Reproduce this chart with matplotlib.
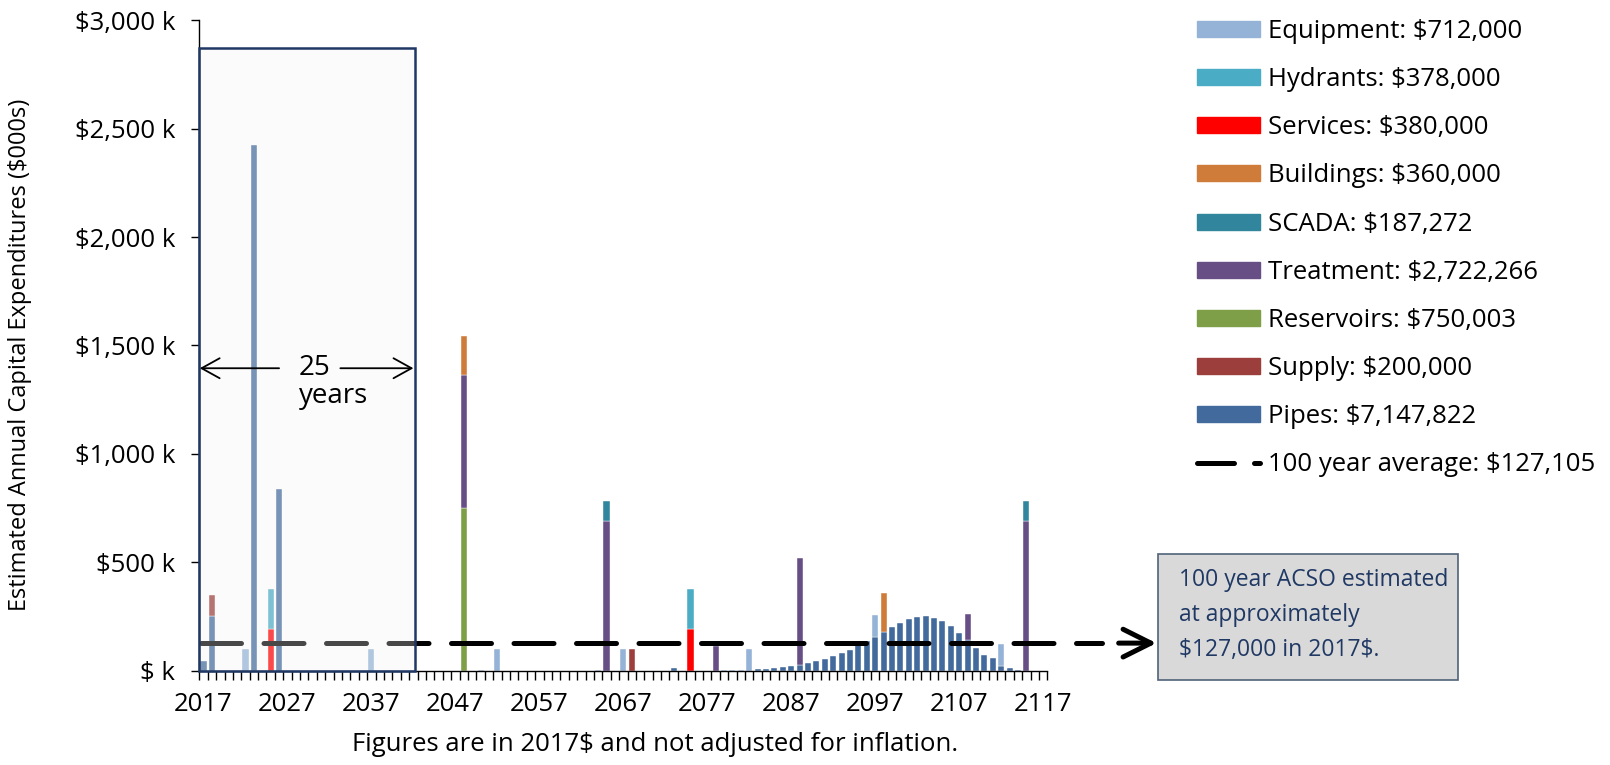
import numpy as np
import matplotlib.pyplot as plt
from matplotlib.patches import Patch, Rectangle
from matplotlib.lines import Line2D
from matplotlib.ticker import FuncFormatter, MultipleLocator

plt.rcParams['font.family'] = ['Open Sans', 'DejaVu Sans']

years = list(range(2017, 2118))

# annual capital spend per asset class, in $000s, keyed by year
equipment = {2022: 100, 2037: 100, 2050: 3, 2052: 100, 2064: 3, 2067: 100,
             2079: 2, 2080: 2, 2081: 2, 2082: 100, 2097: 100, 2112: 100}
hydrants = {2025: 189, 2075: 189}
services = {2025: 190, 2075: 190}
buildings = {2048: 180, 2098: 180}
scada = {2065: 93.6, 2115: 93.6}
treatment = {2048: 615, 2065: 690, 2078: 112, 2088: 494, 2108: 121, 2115: 690}
reservoirs = {2048: 750}
supply = {2018: 100, 2068: 100}
pipes_early = {2017: 46, 2018: 250, 2023: 2425, 2026: 838, 2073: 11}
pipes_late = [8, 9.5, 12.5, 17, 22, 28, 35, 45, 54, 66, 82, 97, 117, 135, 157,
              180, 201, 220, 237, 248, 251, 245, 231, 206, 174, 140, 103, 71,
              60, 22, 11, 3]  # 2083..2114

avg_line = 127.105

legend_labels = [
    'Equipment: \\$712,000', 'Hydrants: \\$378,000', 'Services: \\$380,000',
    'Buildings: \\$360,000', 'SCADA: \\$187,272', 'Treatment: \\$2,722,266',
    'Reservoirs: \\$750,003', 'Supply: \\$200,000', 'Pipes: \\$7,147,822',
]
avg_label = '100 year average: \\$127,105'

pipes = dict(pipes_early)
pipes.update(zip(range(2083, 2115), pipes_late))

# bottom-to-top stacking order
stack = [
    (pipes, '#426a9c'),
    (supply, '#9c3f3c'),
    (reservoirs, '#7e9e48'),
    (treatment, '#674f86'),
    (scada, '#31859c'),
    (buildings, '#cf7b3a'),
    (services, '#ff0000'),
    (hydrants, '#4bacc6'),
    (equipment, '#95b3d7'),
]

fig = plt.figure(figsize=(16.1, 7.65), dpi=100)
ax = fig.add_axes([0.1238, 0.1233, 0.5267, 0.8502])

x = np.arange(len(years))
bottom = np.zeros(len(years))
for series, color in stack:
    vals = np.array([series.get(y, 0) for y in years], dtype=float)
    m = vals > 0
    ax.bar(x[m], vals[m], 0.72, bottom=bottom[m], color=color,
           edgecolor='white', linewidth=0.3, zorder=2)
    bottom += vals

ax.set_xlim(-0.5, len(years) - 0.5)
ax.set_ylim(0, 3000)

# 100 year average, carried out past the axis to the note box
ax.plot([-0.3, 107], [avg_line, avg_line], color='black', lw=3.6,
        dashes=(8, 4.5), dash_capstyle='round', clip_on=False, zorder=2.5)
ax.annotate('', xy=(113.5, avg_line), xytext=(109.0, avg_line),
            arrowprops=dict(arrowstyle='->, head_length=1.0, head_width=0.5',
                            lw=3.6, color='black', shrinkA=0, shrinkB=0,
                            mutation_scale=20),
            annotation_clip=False)

# shaded 25 year window
ax.add_patch(Rectangle((-0.5, 0), 25.73, 2872,
                       facecolor=(0.95, 0.95, 0.95, 0.3),
                       edgecolor='#1f3864', lw=1.8, zorder=3, clip_on=False))
arrow_kw = dict(arrowstyle='->, head_length=0.65, head_width=0.36', lw=1.3,
                color='black', shrinkA=0, shrinkB=0, mutation_scale=20)
ax.annotate('', xy=(-0.45, 1395), xytext=(9.0, 1395), arrowprops=arrow_kw,
            zorder=4)
ax.annotate('', xy=(25.0, 1395), xytext=(16.3, 1395), arrowprops=arrow_kw,
            zorder=4)
ax.text(11.29, 1364, '25', fontsize=20, ha='left', va='baseline', zorder=4)
ax.text(11.4, 1236, 'years', fontsize=20, ha='left', va='baseline', zorder=4)

for s in ['top', 'right']:
    ax.spines[s].set_visible(False)
ax.spines['left'].set_linewidth(1)
ax.spines['bottom'].set_linewidth(1)

ax.yaxis.set_major_locator(MultipleLocator(500))
ax.yaxis.set_major_formatter(FuncFormatter(
    lambda v, p: '\\$ k' if v == 0 else '\\${:,.0f} k'.format(v)))
ax.tick_params(axis='y', length=5.8, width=1, pad=11.5, labelsize=18.5)

ax.set_xticks(x[::10])
ax.set_xticklabels(years[::10])
ax.set_xticks(np.arange(-0.5, len(years)), minor=True)
ax.tick_params(axis='x', which='major', length=0, pad=15, labelsize=18.5)
ax.tick_params(axis='x', which='minor', length=6.2, width=1)

fig.text(20.5 / 1610, 0.536, 'Estimated Annual Capital Expenditures (\\$000s)',
         rotation=90, ha='center', va='center', fontsize=17)
fig.text(0.4066, 0.0268, 'Figures are in 2017\\$ and not adjusted for inflation.',
         ha='center', va='center', fontsize=18.5)

# legend
handles = [Patch(color=c) for _, c in stack[::-1]]
handles.append(Line2D([], [], color='black', lw=3.6, dashes=(7.4, 4.0),
                      dash_capstyle='round'))
fig.legend(handles, legend_labels + [avg_label], loc='upper left',
           bbox_to_anchor=(1197 / 1610, 0.975), frameon=False, fontsize=18.5,
           handlelength=2.45, handleheight=0.58, handletextpad=0.3,
           labelspacing=0.9, borderpad=0, borderaxespad=0)

# note box
fig.add_artist(Rectangle((1158.3 / 1610, (765 - 680) / 765), 300 / 1610,
                         126 / 765, transform=fig.transFigure,
                         facecolor='#d9d9d9', edgecolor='#51627a', lw=1.2))
fig.text(1179 / 1610, 0.2575,
         '100 year ACSO estimated\nat approximately\n\\$127,000 in 2017\\$.',
         color='#1f3864', fontsize=16.5, ha='left', va='top', linespacing=1.6)

fig.savefig('out.png', dpi=100)
